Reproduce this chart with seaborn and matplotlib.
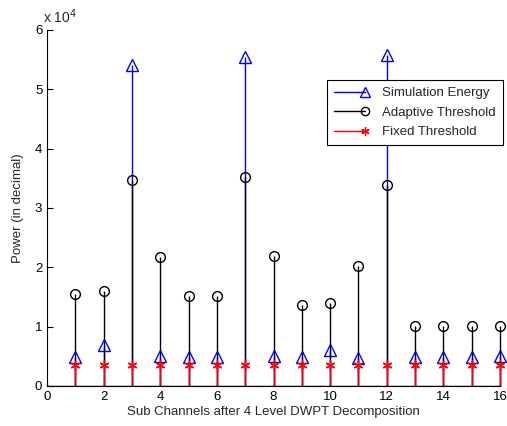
import numpy as np
import pandas as pd
import matplotlib
matplotlib.use("Agg")
import matplotlib.pyplot as plt
from matplotlib.legend_handler import HandlerLine2D
import seaborn as sns

channels = list(range(1, 17))
sim_energy = [0.49, 0.69, 5.41, 0.50, 0.49, 0.49, 5.55, 0.50, 0.49, 0.60, 0.47, 5.58, 0.49, 0.49, 0.49, 0.50]
adaptive = [1.55, 1.60, 3.47, 2.18, 1.52, 1.52, 3.52, 2.19, 1.37, 1.40, 2.02, 3.38, 1.01, 1.01, 1.01, 1.01]
fixed = [0.35] * 16
scale = 1e4
xticks = list(range(0, 17, 2))
yticks = list(range(0, 7))

sns.set_style("white")
plt.rcParams['font.family'] = ['Liberation Sans', 'DejaVu Sans']


class EndMarkerHandler(HandlerLine2D):
    def create_artists(self, legend, orig_handle, xdescent, ydescent, width, height, fontsize, trans):
        arts = super().create_artists(legend, orig_handle, xdescent, ydescent, width, height, fontsize, trans)
        for a in arts:
            if a.get_markevery() is not None:
                a.set_markevery([2])
        return arts


fig = plt.figure(figsize=(5.07, 4.26), dpi=100)
ax = fig.add_axes([0.093, 0.094, 0.893, 0.836])

asterisk = (6, 2, 0)
series = [
    ("Simulation Energy", sim_energy, "#0000ff", "^", 8, "none"),
    ("Adaptive Threshold", adaptive, "#000000", "o", 7, "none"),
    ("Fixed Threshold", fixed, "#ff0000", asterisk, 7, "#ff0000"),
]
df = pd.DataFrame({"x": channels * 3,
                   "y": np.array(sim_energy + adaptive + fixed) * scale,
                   "s": ["Simulation Energy"] * 16 + ["Adaptive Threshold"] * 16 + ["Fixed Threshold"] * 16})

handles = []
for name, vals, col, mk, ms, fc in series:
    y = np.array(vals) * scale
    ax.vlines(channels, 0, y, color=col, lw=1.0, zorder=2, clip_on=False)
    sub = df[df.s == name]
    ax.plot(sub.x, sub.y, ls="none", marker=mk, markersize=ms,
            markerfacecolor=fc, markeredgecolor=col, markeredgewidth=1.0, zorder=3, clip_on=False)
    h, = ax.plot([], [], color=col, lw=1.0, marker=mk, markersize=ms - 1,
                 markerfacecolor=fc, markeredgecolor=col)
    handles.append(h)

ax.axhline(0, color="black", lw=1.0, zorder=4)
ax.set_xlim(0, 16)
ax.set_ylim(0, 6 * scale)
ax.set_xticks(xticks)
ax.set_xticklabels([str(t) for t in xticks])
ax.set_yticks([t * scale for t in yticks])
ax.set_yticklabels([str(t) for t in yticks])
ax.tick_params(direction="in", length=4, labelsize=9.5, width=0.8, colors="black",
               left=True, bottom=True)
for s in ["top", "right"]:
    ax.spines[s].set_visible(False)
for s in ["left", "bottom"]:
    ax.spines[s].set_color("black")
    ax.spines[s].set_linewidth(0.8)

ax.set_xlabel("Sub Channels after 4 Level DWPT Decomposition", fontsize=9.5, labelpad=2)
ax.set_ylabel("Power (in decimal)", fontsize=9.5, labelpad=8)
ax.text(-0.01, 1.012, "x 10$^{4}$", transform=ax.transAxes, fontsize=10, ha="left", va="bottom")

leg = ax.legend(handles, [s[0] for s in series], loc="upper right",
                bbox_to_anchor=(1.006, 0.86), borderaxespad=0, fontsize=9.5, frameon=True,
                fancybox=False, edgecolor="black", framealpha=1, handlelength=2.3,
                handletextpad=1.3, numpoints=1, borderpad=0.55, labelspacing=0.55,
                handler_map={matplotlib.lines.Line2D: EndMarkerHandler()})
leg.get_frame().set_linewidth(0.8)

fig.savefig("out.png", dpi=100)
